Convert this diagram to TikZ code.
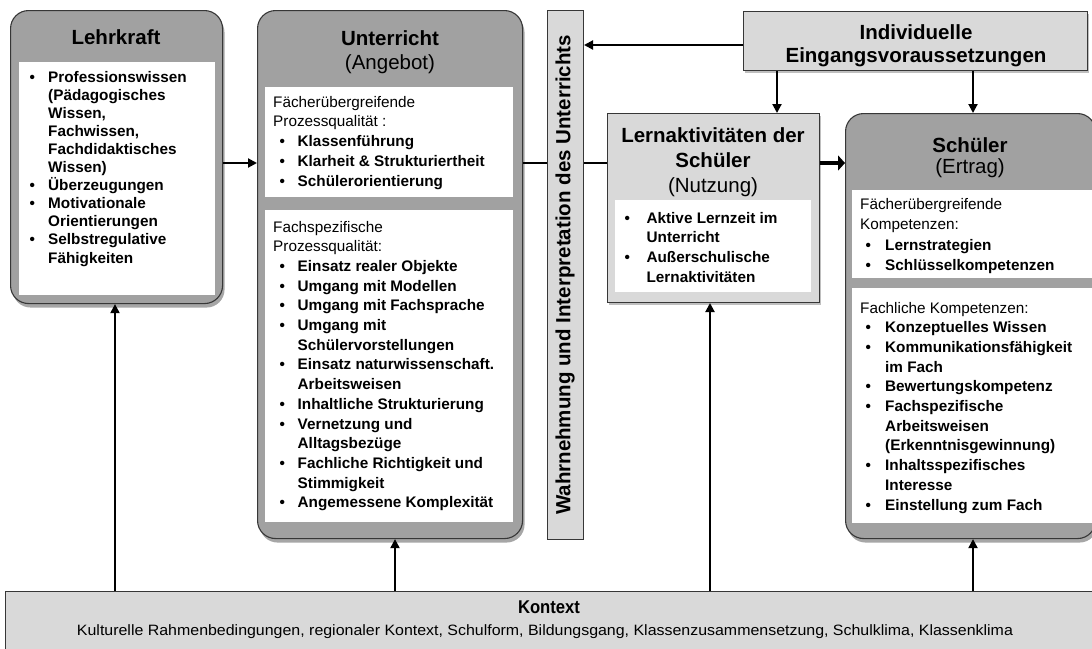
\documentclass[tikz,border=0pt]{standalone}
\usepackage{graphicx}
\usepackage{fontspec}
\setmainfont{Liberation Sans}
\usetikzlibrary{arrows.meta,shadows}
\definecolor{dgray}{RGB}{161,161,161}
\definecolor{lgray}{RGB}{217,217,217}
\definecolor{edgec}{RGB}{55,55,55}
\newlength\bi
\newlength\bw
\newcommand\bul{\hspace*{\bi}\makebox[\bw][l]{\textbullet}}
\newcommand\cnt{\hspace*{\dimexpr\bi+\bw\relax}}
\begin{document}
\begin{tikzpicture}[x=1pt,y=-1pt,
  darkbox/.style={draw=edgec, line width=1.1pt, fill=dgray, rounded corners=18pt, anchor=north west, inner sep=0pt,
    drop shadow={shadow xshift=2pt, shadow yshift=-4pt, opacity=0.35, fill=black}},
  lightbox/.style={draw=edgec, line width=1pt, fill=lgray, anchor=north west, inner sep=0pt},
  whitebox/.style={fill=white, draw=none, anchor=north west, inner sep=0pt},
  ttl/.style n args={1}{font=\fontsize{20.5}{#1}\selectfont, align=center, inner sep=0pt, anchor=base},
  lst/.style n args={3}{font=\fontsize{15.3}{#1}\selectfont\bfseries\setlength\bi{#2}\setlength\bw{#3}, align=left, inner sep=0pt, anchor=base west},
  arr/.style={draw=black, line width=2pt, -{Triangle[length=9pt,width=9pt]}},
  conn/.style={draw=black, line width=2pt},
  bigarr/.style={draw=black, line width=4.5pt, -{Triangle[length=7pt,width=15pt]}}
]
\fill[white] (0,0) rectangle (1092,648);
\clip (0,0) rectangle (1092,648);

% boxes
\node[darkbox, minimum width=212pt, minimum height=293pt] (lehr) at (10,10) {};
\node[whitebox, minimum width=196pt, minimum height=233pt] (lehrin) at (19,62) {};
\node[darkbox, minimum width=265pt, minimum height=528pt] (unt) at (257,10) {};
\node[whitebox, minimum width=248pt, minimum height=110pt] (untin1) at (265,87) {};
\node[whitebox, minimum width=248pt, minimum height=312pt] (untin2) at (265,210) {};
\node[lightbox, minimum width=36pt, minimum height=529pt] (bar) at (547,10) {};
\node[lightbox, minimum width=344pt, minimum height=59pt,
  drop shadow={shadow xshift=1pt, shadow yshift=-2pt, opacity=0.25, fill=black}] (indiv) at (743,11) {};
\node[lightbox, minimum width=212pt, minimum height=189pt,
  drop shadow={shadow xshift=1pt, shadow yshift=-2pt, opacity=0.25, fill=black}] (lern) at (607,113) {};
\node[whitebox, minimum width=196pt, minimum height=92pt] (lernin) at (615,200) {};
\node[darkbox, minimum width=250pt, minimum height=425pt] (sch) at (845,113) {};
\node[whitebox, minimum width=240pt, minimum height=88pt] (schin1) at (852,190) {};
\node[whitebox, minimum width=240pt, minimum height=235pt] (schin2) at (852,288) {};
\node[lightbox, minimum width=1105pt, minimum height=70pt] (kon) at (5,591) {};

% titles (base anchor = baseline of the last line)
\node[ttl={23.5}] (lehrt) at (116,44) {\bfseries Lehrkraft};
\node[ttl={24}] (untt) at (390,69) {{\bfseries Unterricht}\\(Angebot)};
\node[ttl={25}] (lernt) at (713,192) {{\bfseries Lernaktivitäten der}\\{\bfseries Schüler}\\(Nutzung)};
\node[ttl={21.5}] (scht) at (970,173.5) {{\bfseries Schüler}\\(Ertrag)};
\node[ttl={23}] (indivt) at (916,62) {{\bfseries Individuelle}\\{\bfseries Eingangsvoraussetzungen}};
\node[rotate=90, font=\fontsize{20.5}{24}\selectfont\bfseries, inner sep=0pt] (bart) at (565,275) {Wahrnehmung und Interpretation des Unterrichts};
\node[anchor=base, inner sep=0pt] (kont) at (549,613.5) {\resizebox{62pt}{\height}{\fontsize{18.5}{20}\selectfont\bfseries Kontext}};
\node[anchor=base, inner sep=0pt] (kons) at (545,635) {\resizebox{936pt}{\height}{\fontsize{15}{17}\selectfont Kulturelle Rahmenbedingungen, regionaler Kontext, Schulform, Bildungsgang, Klassenzusammensetzung, Schulklima, Klassenklima}};

% lists (base anchor = baseline of the last line)
\node[lst={18.1}{0pt}{18.5pt}] (lehrl) at (29.5,263) {%
\bul Professionswissen\\
\cnt (Pädagogisches\\
\cnt Wissen,\\
\cnt Fachwissen,\\
\cnt Fachdidaktisches\\
\cnt Wissen)\\
\bul Überzeugungen\\
\bul Motivationale\\
\cnt Orientierungen\\
\bul Selbstregulative\\
\cnt Fähigkeiten};

\node[lst={19.8}{6.5pt}{18pt}] (untl1) at (273,186.2) {%
{\mdseries Fächerübergreifende}\\
{\mdseries Prozessqualität :}\\
\bul Klassenführung\\
\bul Klarheit \& Strukturiertheit\\
\bul Schülerorientierung};

\node[lst={19.7}{6.5pt}{18pt}] (untl2) at (273,507.8) {%
{\mdseries Fachspezifische}\\
{\mdseries Prozessqualität:}\\
\bul Einsatz realer Objekte\\
\bul Umgang mit Modellen\\
\bul Umgang mit Fachsprache\\
\bul Umgang mit\\
\cnt Schülervorstellungen\\
\bul Einsatz naturwissenschaft.\\
\cnt Arbeitsweisen\\
\bul Inhaltliche Strukturierung\\
\bul Vernetzung und\\
\cnt Alltagsbezüge\\
\bul Fachliche Richtigkeit und\\
\cnt Stimmigkeit\\
\bul Angemessene Komplexität};

\node[lst={19.7}{0pt}{22pt}] (lernl) at (624.4,282.1) {%
\bul Aktive Lernzeit im\\
\cnt Unterricht\\
\bul Außerschulische\\
\cnt Lernaktivitäten};

\node[lst={20.5}{5.4pt}{19.6pt}] (schl1) at (860,270.5) {%
{\mdseries Fächerübergreifende}\\
{\mdseries Kompetenzen:}\\
\bul Lernstrategien\\
\bul Schlüsselkompetenzen};

\node[lst={19.7}{5.4pt}{19.6pt}] (schl2) at (860,510) {%
{\mdseries Fachliche Kompetenzen:}\\
\bul Konzeptuelles Wissen\\
\bul Kommunikationsfähigkeit\\
\cnt im Fach\\
\bul Bewertungskompetenz\\
\bul Fachspezifische\\
\cnt Arbeitsweisen\\
\cnt (Erkenntnisgewinnung)\\
\bul Inhaltsspezifisches\\
\cnt Interesse\\
\bul Einstellung zum Fach};

% helper coordinates
\coordinate (row) at (0,163);
\coordinate (toprow) at (0,45);
\coordinate (c1) at (777,0);
\coordinate (c2) at (973,0);
\coordinate (k1) at (115,0);
\coordinate (k2) at (395,0);
\coordinate (k3) at (710,0);

% connectors
\draw[arr] (lehr.east |- row) -- (unt.west |- row);
\draw[conn] (unt.east |- row) -- (bar.west |- row);
\draw[conn] (bar.east |- row) -- (lern.west |- row);
\draw[bigarr] (lern.east |- row) -- (sch.west |- row);
\draw[arr] (indiv.west |- toprow) -- (bar.east |- toprow);
\draw[arr] (indiv.south -| c1) -- (lern.north -| c1);
\draw[arr] (indiv.south -| c2) -- (sch.north -| c2);
\draw[arr] (kon.north -| k1) -- (lehr.south -| k1);
\draw[arr] (kon.north -| k2) -- (unt.south -| k2);
\draw[arr] (kon.north -| k3) -- (lern.south -| k3);
\draw[arr] (kon.north -| c2) -- (sch.south -| c2);
\end{tikzpicture}
\end{document}
